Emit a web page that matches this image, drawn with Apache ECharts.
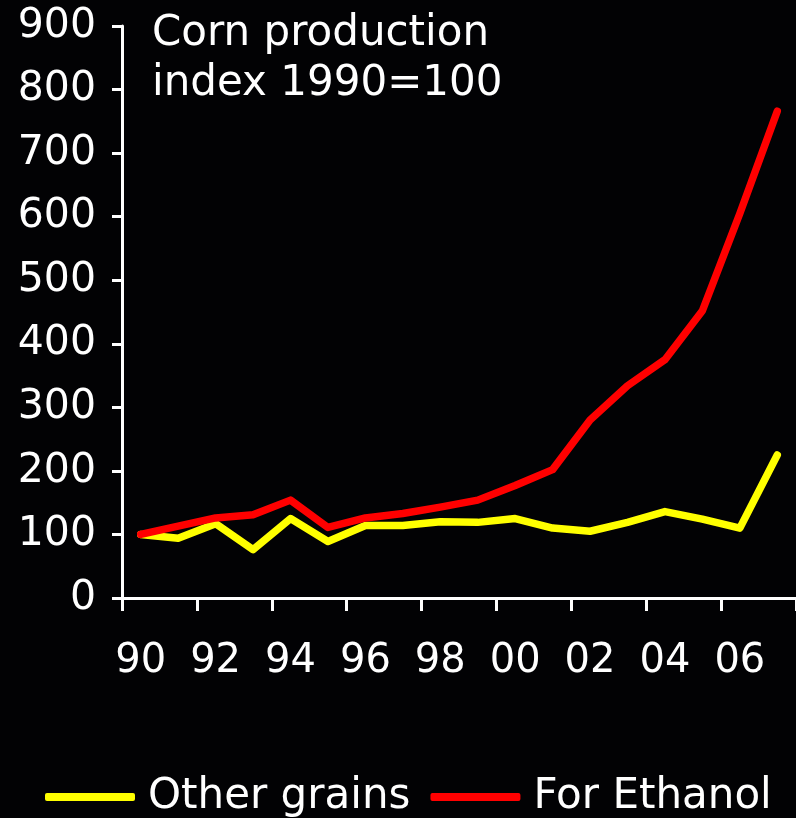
<!DOCTYPE html>
<html>
<head>
<meta charset="utf-8">
<script src="https://cdn.jsdelivr.net/npm/echarts@6/dist/echarts.min.js"></script>
<style>
  html, body { margin: 0; padding: 0; background: #020204; }
  #main { width: 796px; height: 818px; }
</style>
</head>
<body>
<div id="main"></div>
<script>
  // years 1990..2007, labels shown every other year
  var years = ['90', '91', '92', '93', '94', '95', '96', '97', '98', '99',
               '00', '01', '02', '03', '04', '05', '06', '07'];
  var otherGrains = [100, 94, 117, 76, 125, 89, 114, 114, 120, 119, 125, 110, 105, 119, 136, 124, 110, 225];
  var forEthanol = [100, 113, 126, 131, 154, 111, 126, 133, 143, 154, 177, 202, 280, 334, 375, 452, 605, 766];

  var font = "'DejaVu Sans', sans-serif";
  var myChart = echarts.init(document.getElementById('main'));

  var option = {
    backgroundColor: '#020204',
    animation: false,
    title: {
      text: 'Corn production\nindex 1990=100',
      left: 147,
      top: 4,
      textStyle: {
        color: '#fff',
        fontFamily: font,
        fontWeight: 'normal',
        fontSize: 42,
        lineHeight: 50
      }
    },
    legend: {
      left: 40,
      top: 771,
      itemWidth: 90,
      itemHeight: 8,
      itemGap: 20,
      icon: 'roundRect',
      data: ['Other grains', 'For Ethanol'],
      textStyle: {
        color: '#fff',
        fontFamily: font,
        fontSize: 42,
        padding: [0, 0, 0, 8]
      }
    },
    grid: {
      left: 122,
      right: 0,
      top: 26,
      bottom: 220
    },
    xAxis: {
      type: 'category',
      data: years,
      boundaryGap: true,
      axisLine: { lineStyle: { color: '#fff', width: 3 } },
      axisTick: { show: true, interval: 1, length: 13, lineStyle: { color: '#fff', width: 3 } },
      axisLabel: {
        interval: 1,
        color: '#fff',
        fontFamily: font,
        fontSize: 40,
        margin: 44
      }
    },
    yAxis: {
      type: 'value',
      min: 0,
      max: 900,
      interval: 100,
      splitLine: { show: false },
      axisLine: { show: true, lineStyle: { color: '#fff', width: 3 } },
      axisTick: { show: true, length: 10, lineStyle: { color: '#fff', width: 3 } },
      axisLabel: {
        color: '#fff',
        fontFamily: font,
        fontSize: 41,
        margin: 26
      }
    },
    series: [
      {
        name: 'Other grains',
        type: 'line',
        data: otherGrains,
        symbol: 'none',
        color: '#ffff00',
        lineStyle: { width: 7.5, cap: 'round', join: 'round' }
      },
      {
        name: 'For Ethanol',
        type: 'line',
        data: forEthanol,
        symbol: 'none',
        color: '#ff0000',
        lineStyle: { width: 7.5, cap: 'round', join: 'round' }
      }
    ]
  };

  myChart.setOption(option);
</script>
</body>
</html>
